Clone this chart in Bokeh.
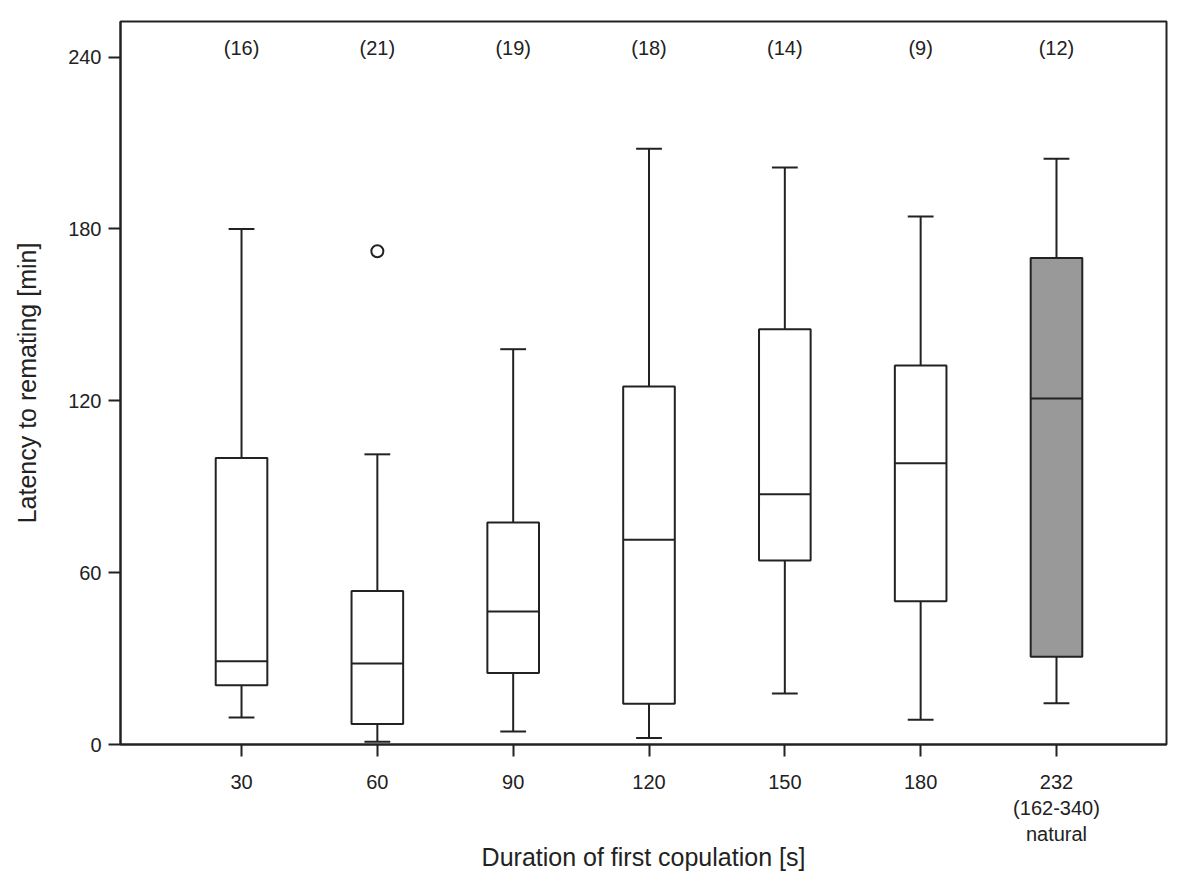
from bokeh.plotting import figure
from bokeh.models import ColumnDataSource, FixedTicker, Range1d
from bokeh.core.properties import value
from bokeh.embed import file_html
from bokeh.resources import INLINE

# ---- data ----
categories = ["30", "60", "90", "120", "150", "180", "232\n(162-340)\nnatural"]
n_counts = [16, 21, 19, 18, 14, 9, 12]
whisker_low = [9.4, 1.0, 4.5, 2.3, 17.8, 8.6, 14.4]
q1 = [20.7, 7.2, 25.0, 14.2, 64.2, 50.0, 30.6]
median = [29.1, 28.3, 46.4, 71.5, 87.4, 98.2, 120.8]
q3 = [100.0, 53.6, 77.5, 125.0, 145.0, 132.3, 169.8]
whisker_high = [180.0, 101.3, 138.0, 208.0, 201.4, 184.3, 204.5]
outlier_cat = [2]
outlier_val = [172.2]
box_fill = ["white", "white", "white", "white", "white", "white", "#999999"]
y_ticks = [0, 60, 120, 180, 240]

FONT = "Liberation Sans"
INK = "#222222"
LW = 2
BOX_W = 0.38
CAP_W = 0.19

xs = list(range(1, len(categories) + 1))

src = ColumnDataSource(dict(
    x=xs,
    lo=whisker_low, q1=q1, med=median, q3=q3, hi=whisker_high,
    fill=box_fill,
    cap_l=[x - CAP_W / 2 for x in xs], cap_r=[x + CAP_W / 2 for x in xs],
    box_l=[x - BOX_W / 2 for x in xs], box_r=[x + BOX_W / 2 for x in xs],
    label=[f"({n})" for n in n_counts],
    label_y=[243.3] * len(xs),
))

p = figure(
    frame_width=1046, frame_height=723,
    min_border_left=120, min_border_right=26, min_border_top=21, min_border_bottom=124,
    x_range=Range1d(0.109, 7.81), y_range=Range1d(0, 252.4),
    output_backend="svg", toolbar_location=None,
)
p.xgrid.visible = False
p.ygrid.visible = False
p.background_fill_color = "white"
p.border_fill_color = "white"
p.outline_line_color = INK
p.outline_line_width = LW

# whiskers
p.segment(x0="x", y0="q3", x1="x", y1="hi", source=src, line_color=INK, line_width=LW)
p.segment(x0="x", y0="lo", x1="x", y1="q1", source=src, line_color=INK, line_width=LW)
p.segment(x0="cap_l", y0="hi", x1="cap_r", y1="hi", source=src, line_color=INK, line_width=LW)
p.segment(x0="cap_l", y0="lo", x1="cap_r", y1="lo", source=src, line_color=INK, line_width=LW)
# boxes
p.vbar(x="x", bottom="q1", top="q3", width=BOX_W, source=src,
       fill_color="fill", line_color=INK, line_width=LW)
# medians
p.segment(x0="box_l", y0="med", x1="box_r", y1="med", source=src, line_color=INK, line_width=LW)
# outlier
p.scatter(x=outlier_cat, y=outlier_val, marker="circle", size=12,
          fill_color=None, line_color=INK, line_width=LW)
# n labels
p.text(x="x", y="label_y", text="label", source=src, text_align="center",
       text_baseline="middle", text_font=value(FONT), text_font_size="20px",
       text_color=INK)

# axes
xa = p.xaxis[0]
xa.ticker = FixedTicker(ticks=xs)
xa.major_label_overrides = {i + 1: c for i, c in enumerate(categories)}
xa.axis_label = "Duration of first copulation [s]"
ya = p.yaxis[0]
ya.ticker = FixedTicker(ticks=y_ticks)
ya.axis_label = "Latency to remating [min]"

for ax in (xa, ya):
    ax.axis_line_color = INK
    ax.axis_line_width = LW
    ax.major_tick_line_color = INK
    ax.major_tick_line_width = LW
    ax.major_tick_out = 12
    ax.major_tick_in = 0
    ax.minor_tick_line_color = None
    ax.major_label_text_font = FONT
    ax.major_label_text_font_size = "20px"
    ax.major_label_text_color = INK
    ax.major_label_standoff = 7
    ax.axis_label_text_font = FONT
    ax.axis_label_text_font_size = "25px"
    ax.axis_label_text_font_style = "normal"
    ax.axis_label_text_color = INK
ya.axis_label_standoff = 24
xa.major_label_standoff = 14
xa.axis_label_standoff = -5

open("out.html", "w").write(file_html(p, INLINE))
